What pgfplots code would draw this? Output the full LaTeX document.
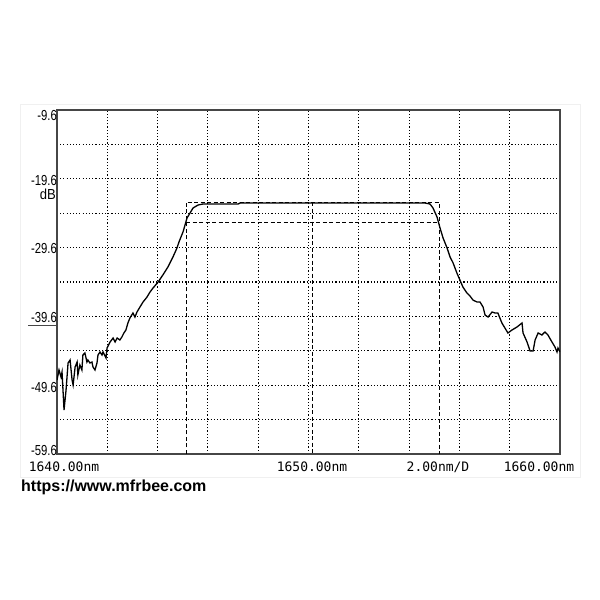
\documentclass[border=0pt]{standalone}
\usepackage{pgfplots}
\pgfplotsset{compat=1.18}
\usepackage{fontspec}
\setmainfont{Liberation Sans}
\newfontfamily\monofont{DejaVu Sans Mono}

\begin{document}
\begin{tikzpicture}[x=1pt,y=1pt]
\fill[white] (0,0) rectangle (600,600);
\draw[gray!12, line width=1pt] (20,122) rectangle (580,495);
\begin{axis}[
    at={(57pt,146pt)}, anchor=south west,
    scale only axis, width=503pt, height=344pt,
    xmin=1640, xmax=1660, ymin=-59.6, ymax=-9.6,
    xtick={1640,1642,1644,1646,1648,1650,1652,1654,1656,1658,1660},
    ytick={-59.6,-54.6,-49.6,-44.6,-39.6,-34.6,-29.6,-24.6,-19.6,-14.6,-9.6},
    xticklabels={}, yticklabels={},
    major tick length=0pt,
    grid=major,
    major grid style={black, line width=1.1pt, dash pattern=on 1.1pt off 2.1pt},
    axis line style={gray!55!black, line width=1.6pt},
  ]
  % marker box (dashed)
  \addplot[black, line width=1pt, dash pattern=on 4pt off 2.5pt] coordinates {
    (1645.13,-59.6) (1645.13,-23.0) (1655.19,-23.0) (1655.19,-59.6)
  };
  \addplot[black, line width=1pt, dash pattern=on 4pt off 2.5pt] coordinates {
    (1645.13,-26.0) (1655.19,-26.0)
  };
  \addplot[black, line width=1pt, dash pattern=on 4pt off 2.5pt] coordinates {
    (1650.14,-23.0) (1650.14,-59.6)
  };

  % spectrum trace
  \addplot[black, line width=1.3pt] coordinates {
    (1640.00,-48.84) (1640.08,-47.39) (1640.16,-48.41) (1640.20,-47.68)
    (1640.28,-53.20) (1640.36,-50.30) (1640.44,-46.37) (1640.52,-45.94)
    (1640.60,-48.84) (1640.64,-49.57) (1640.72,-46.95) (1640.80,-46.23)
    (1640.83,-48.12) (1640.91,-46.66) (1640.99,-47.39) (1641.03,-45.21)
    (1641.11,-44.92) (1641.19,-46.23) (1641.23,-45.94) (1641.31,-46.37)
    (1641.39,-46.23) (1641.43,-46.95) (1641.51,-47.39) (1641.59,-46.37)
    (1641.63,-45.21) (1641.71,-44.77) (1641.79,-45.21) (1641.83,-44.77)
    (1641.95,-45.65) (1641.99,-44.19) (1642.11,-43.32) (1642.23,-42.74)
    (1642.31,-43.32) (1642.39,-42.74) (1642.50,-43.03) (1642.58,-42.59)
    (1642.66,-42.01) (1642.74,-41.58) (1642.82,-40.56) (1642.90,-39.83)
    (1643.02,-39.11) (1643.10,-39.69) (1643.18,-38.96) (1643.30,-38.23)
    (1643.42,-37.51) (1643.58,-36.78) (1643.70,-36.05) (1643.82,-35.47)
    (1644.02,-34.60) (1644.21,-33.58) (1644.41,-32.42) (1644.61,-30.97)
    (1644.77,-29.66) (1644.85,-28.79) (1645.01,-27.33) (1645.17,-25.30)
    (1645.29,-24.57) (1645.41,-23.84) (1645.61,-23.41) (1645.81,-23.26)
    (1646.08,-23.26) (1647.20,-23.26) (1647.28,-23.12) (1649.66,-23.12)
    (1654.43,-23.12) (1654.63,-23.12) (1654.83,-23.26) (1654.95,-23.84)
    (1655.11,-25.15) (1655.23,-26.75) (1655.35,-28.20) (1655.51,-29.66)
    (1655.63,-30.97) (1655.75,-31.84) (1655.90,-33.29) (1656.02,-34.31)
    (1656.14,-35.33) (1656.30,-36.20) (1656.42,-36.63) (1656.54,-37.22)
    (1656.70,-37.51) (1656.82,-37.51) (1656.94,-38.23) (1657.02,-39.40)
    (1657.14,-39.69) (1657.30,-38.96) (1657.42,-39.11) (1657.53,-39.11)
    (1657.69,-40.56) (1657.81,-41.29) (1657.93,-42.01) (1658.09,-41.58)
    (1658.29,-41.14) (1658.49,-40.56) (1658.53,-42.01) (1658.69,-43.32)
    (1658.81,-44.63) (1658.93,-44.63) (1659.01,-43.03) (1659.13,-42.01)
    (1659.28,-42.30) (1659.40,-41.87) (1659.52,-42.30) (1659.68,-43.32)
    (1659.80,-44.05) (1659.88,-44.77) (1659.92,-44.19) (1660.00,-44.77)
  };
\end{axis}

% level labels
\begin{scope}[every node/.style={anchor=east, inner sep=0pt, font=\fontsize{14.5}{14.5}\selectfont}]
  \node at (57,484) {\scalebox{0.78}[1]{-9.6}};
  \node at (57,419.5) {\scalebox{0.78}[1]{-19.6}};
  \node at (56,405.5) {\scalebox{0.9}[1]{dB}};
  \node at (57,351) {\scalebox{0.78}[1]{-29.6}};
  \node at (57,282) {\scalebox{0.78}[1]{-39.6}};
  \node at (57,212) {\scalebox{0.78}[1]{-49.6}};
  \node at (57,149.5) {\scalebox{0.78}[1]{-59.6}};
\end{scope}
\draw[gray!55!black, line width=1pt] (28,274.5) -- (57,274.5);

% wavelength labels
\begin{scope}[every node/.style={inner sep=0pt, font=\monofont\fontsize{13}{13}\selectfont}]
  \node at (64,133) {1640.00nm};
  \node at (312,133) {1650.00nm};
  \node at (438,133) {2.00nm/D};
  \node at (539,133) {1660.00nm};
\end{scope}

\node[anchor=west, inner sep=0pt, font=\bfseries\fontsize{16}{16}\selectfont] at (21,113) {https://www.mfrbee.com};
\end{tikzpicture}
\end{document}
